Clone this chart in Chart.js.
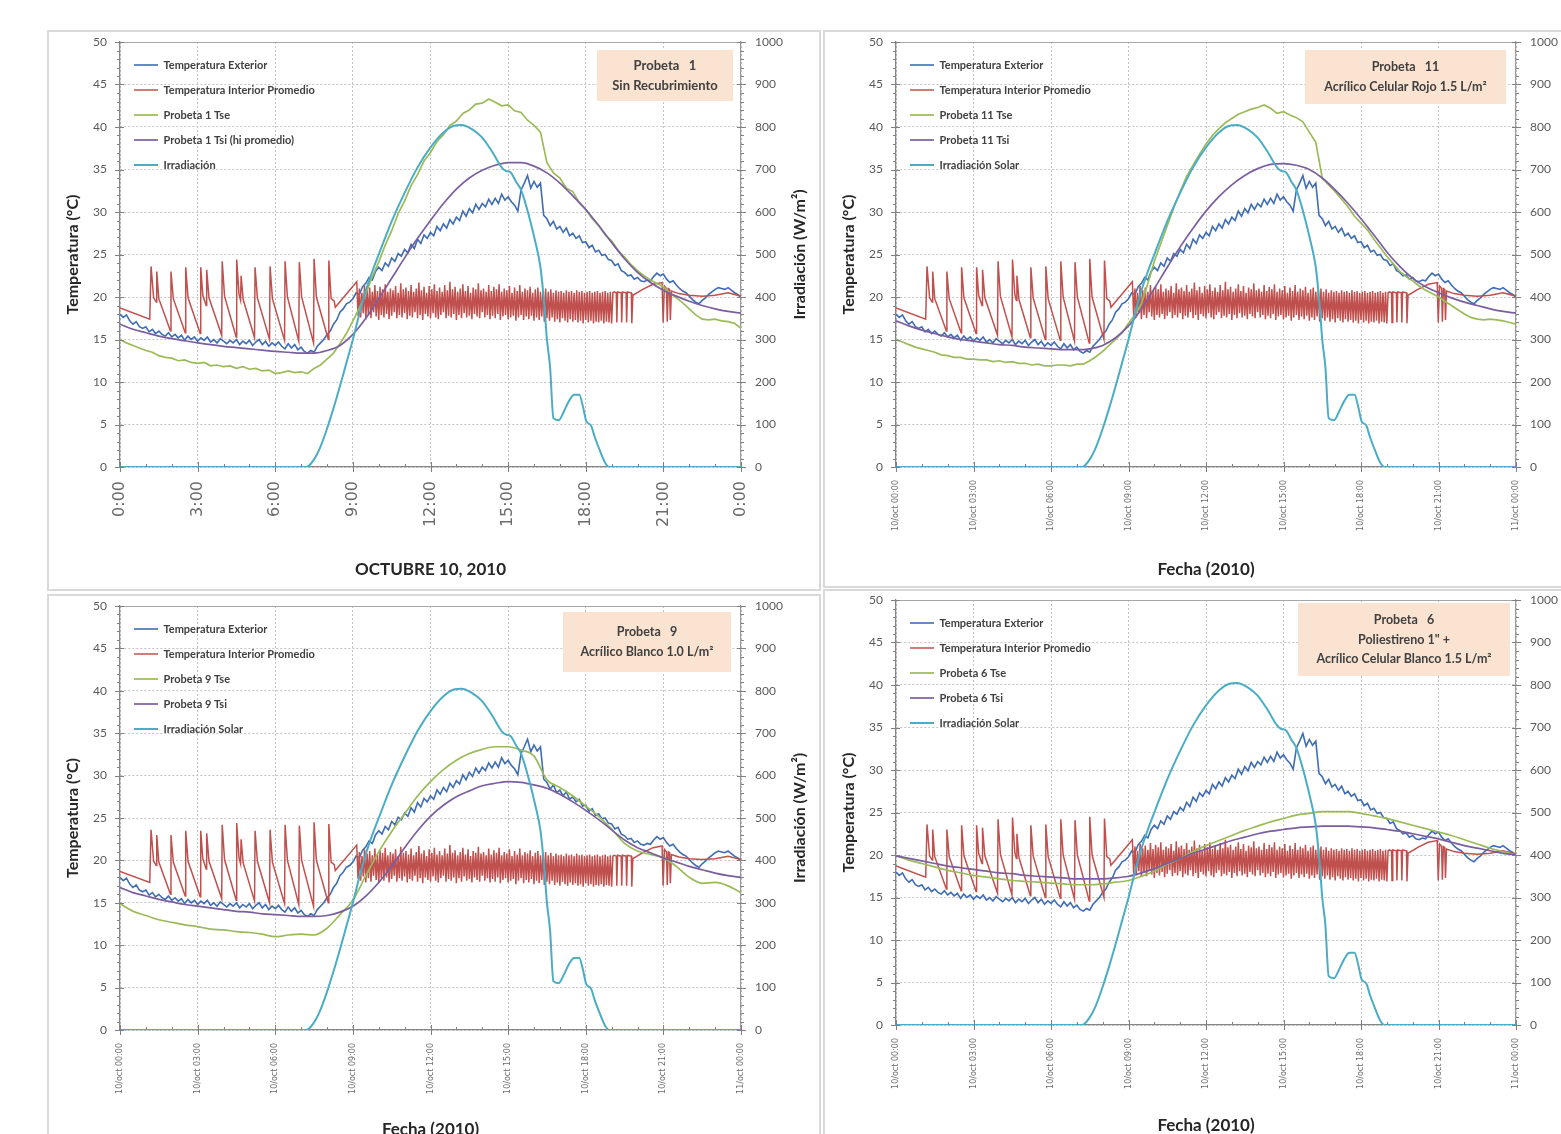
<!DOCTYPE html>
<html lang="es">
<head>
<meta charset="utf-8">
<title>Probetas - 10 de octubre de 2010</title>
<script src="https://cdn.jsdelivr.net/npm/chart.js@4.4.1/dist/chart.umd.min.js"></script>
<style>
  html, body { margin: 0; padding: 0; background: #fff; overflow: hidden; }
  body { width: 1561px; height: 1134px; position: relative; }
  .frame { position: absolute; border: 2px solid #d9d9d9; box-sizing: border-box; }
  canvas { position: absolute; }
</style>
</head>
<body>
<div class="frame" style="left:47px;top:30px;width:774px;height:561px"></div>
<div class="frame" style="left:823px;top:30px;width:760px;height:558px"></div>
<div class="frame" style="left:47px;top:594px;width:774px;height:600px"></div>
<div class="frame" style="left:823px;top:589px;width:760px;height:600px"></div>
<canvas id="p1" width="774" height="560" style="left:47px;top:30px"></canvas>
<canvas id="p11" width="738" height="557" style="left:823px;top:30px"></canvas>
<canvas id="p9" width="774" height="556" style="left:47px;top:594px"></canvas>
<canvas id="p6" width="738" height="560" style="left:823px;top:590px"></canvas>
<script>
Chart.defaults.font.family = "Lato, 'Open Sans', sans-serif";
Chart.defaults.color = '#595959';

// ---------- shared sensors (same in the four tests) ----------
// outside temperature, one reading every 7.5 min (0.125 h)
const EXT_STEP = 0.125;
const extTemp = [
  18.0, 17.6, 17.9, 17.2, 16.8, 17.1, 16.5, 16.3,
  16.5, 15.9, 16.2, 15.7, 16.0, 15.6, 15.4, 15.8,
  15.3, 15.6, 15.2, 15.5, 14.9, 15.4, 15.0, 15.3,
  14.8, 15.2, 14.9, 15.3, 14.7, 15.0, 14.6, 15.1,
  14.8, 14.5, 14.9, 14.6, 15.0, 14.4, 14.8, 14.5,
  14.9, 14.3, 14.7, 15.0, 14.4, 14.8, 14.2, 14.6,
  14.3, 14.7, 14.2, 13.9, 14.5, 14.0, 14.4, 13.8,
  14.1, 13.6, 13.4, 13.7, 13.5, 14.2, 14.6, 15.0,
  15.6, 16.0, 16.8, 17.3, 18.2, 18.6, 19.2, 19.4,
  19.8, 20.5, 20.3, 21.2, 21.6, 22.3, 22.0, 23.0,
  23.5, 23.1, 24.0, 23.6, 24.6, 24.2, 25.1, 24.8,
  25.6, 25.2, 26.2, 25.7, 26.8, 26.3, 27.3, 26.9,
  27.6, 27.2, 28.3, 27.8, 28.6, 28.1, 29.1, 28.6,
  29.4, 29.0, 30.1, 29.5, 30.4, 29.9, 30.9, 30.3,
  31.0, 30.6, 31.5, 30.9, 31.6, 31.0, 32.1, 31.4,
  31.8, 31.2, 30.8, 30.1, 32.6, 33.4, 34.3, 32.8,
  33.6, 32.9, 33.4, 29.6, 29.2, 28.4, 28.9, 28.0,
  28.3, 27.6, 28.1, 27.2, 27.5, 26.9, 27.2, 26.4,
  26.5, 25.8, 26.1, 25.3, 25.5, 24.9, 25.0, 24.4,
  24.3, 23.7, 23.9, 23.1, 22.9, 22.5, 22.6, 22.1,
  22.3, 21.9, 21.8, 22.0, 21.9, 22.4, 22.8, 22.5,
  22.7, 22.1, 21.7, 21.9, 21.4, 21.0, 20.7, 20.5,
  20.1, 19.7, 19.4, 19.2, 19.6, 19.9, 20.3, 20.6,
  20.9, 21.1, 21.0, 20.9, 21.1, 20.8, 20.5, 20.3,
  20.0
];

// inside average temperature: night cycles, dense day cycling, evening
const intNightHrs = [0, 1.15, 1.2, 1.3, 1.4, 1.42, 1.5, 1.95, 1.97, 2.06, 2.52, 2.54, 2.63, 3.1, 3.12,
  3.2, 3.33, 3.35, 3.44, 3.93, 3.95, 4.04, 4.49, 4.51, 4.6, 4.66, 4.68, 4.76, 5.2, 5.22,
  5.31, 5.78, 5.8, 5.89, 6.36, 6.38, 6.47, 6.91, 6.93, 7.02, 7.48, 7.5, 7.59, 8.05, 8.07,
  8.16, 8.28, 8.32, 9.15];
const intNightTemp = [18.7, 17.4, 23.6, 19.9, 19.4, 23.0, 19.8, 16.0, 23.0, 19.8, 15.8, 23.5, 19.9, 15.7, 23.5,
  20.2, 19.0, 23.2, 19.9, 15.5, 24.2, 20.1, 15.3, 24.4, 20.3, 19.6, 22.5, 19.7, 15.2, 23.5,
  19.9, 15.0, 23.6, 19.8, 14.9, 24.2, 20.0, 14.8, 24.1, 20.0, 14.6, 24.5, 20.0, 15.0, 24.3,
  19.8, 19.5, 18.8, 21.8];
// one reading every 3 min from 9:12 to 19:03
const DENSE_START = 9.2, DENSE_STEP = 0.05;
const intDayTemp = [
  17.8, 21.0, 17.6, 20.5, 18.1, 21.3, 17.4, 20.8, 17.9, 21.1,
  17.5, 20.6, 18.2, 21.4, 17.7, 20.7, 17.3, 21.2, 17.9, 20.9,
  17.6, 21.5, 18.0, 20.6, 17.4, 21.0, 17.8, 20.8, 18.2, 21.3,
  17.5, 20.5, 17.9, 21.6, 17.6, 20.9, 18.1, 21.1, 17.4, 20.7,
  17.8, 21.4, 17.6, 20.6, 18.2, 21.0, 17.5, 21.7, 17.9, 20.8,
  17.3, 21.2, 18.0, 20.5, 17.7, 21.3, 17.5, 20.9, 18.1, 21.5,
  17.6, 20.7, 17.4, 21.1, 17.9, 20.6, 18.2, 21.4, 17.5, 20.8,
  17.8, 21.8, 17.6, 20.9, 18.0, 21.2, 17.3, 20.6, 17.9, 21.0,
  17.5, 21.5, 18.1, 20.7, 17.6, 21.3, 17.8, 20.5, 17.4, 21.1,
  18.0, 20.9, 17.7, 21.6, 17.5, 20.8, 18.2, 21.0, 17.6, 20.6,
  17.9, 21.4, 17.4, 20.7, 17.8, 21.2, 17.5, 20.9, 18.0, 21.5,
  17.3, 20.6, 17.7, 21.0, 17.9, 20.8, 17.4, 21.3, 17.6, 20.5,
  17.8, 21.1, 17.2, 20.7, 17.6, 21.4, 17.9, 20.6, 17.3, 21.0,
  17.7, 20.8, 17.4, 21.2, 17.8, 20.5, 17.2, 20.9, 17.6, 21.1,
  17.3, 20.6, 17.7, 20.8, 17.1, 21.0, 17.5, 20.6, 17.2, 20.9,
  17.6, 20.5, 17.1, 20.8, 17.4, 20.6, 17.0, 20.7, 17.5, 20.5,
  17.2, 20.8, 17.0, 20.6, 17.4, 20.7, 17.1, 20.5, 17.3, 20.8,
  17.0, 20.6, 17.2, 20.7, 16.9, 20.5, 17.3, 20.6, 17.0, 20.7,
  17.2, 20.5, 16.9, 20.6, 17.1, 20.7, 17.0, 20.5, 17.2, 20.6,
  16.9, 20.7, 17.1, 20.5, 17.0, 20.6, 16.9, 20.5
];
const intEveHrs = [19.1, 19.18, 19.2, 19.23, 19.37, 19.39, 19.42, 19.56, 19.58, 19.61, 19.76, 19.78, 19.82,
  20.2, 20.6, 20.95, 20.99, 21.04, 21.12, 21.15, 21.19, 21.24, 21.27, 21.31, 21.6, 22.0, 22.5, 23.0, 23.5, 24.0];
const intEveTemp = [20.6, 20.5, 17.0, 20.6, 20.5, 17.0, 20.6, 20.5, 17.0, 20.6, 20.5, 16.9, 20.2,
  20.9, 21.5, 21.7, 17.0, 21.3, 21.0, 17.1, 21.0, 20.9, 17.3, 20.7, 20.4, 20.2, 20.1, 20.2, 20.5, 20.1];

// solar irradiance (W/m2)
const irrHrs = [0, 7.2, 7.5, 7.75, 8.0, 8.25, 8.5, 8.75, 9.0, 9.25, 9.5, 9.75, 10.0, 10.5, 11.0, 11.5,
  12.0, 12.5, 12.9, 13.2, 13.6, 14.0, 14.4, 14.75, 14.9, 15.1, 15.3, 15.5, 15.8, 16.05, 16.25, 16.4,
  16.5, 16.62, 16.75, 16.95, 17.15, 17.35, 17.55, 17.75, 17.9, 18.02, 18.2, 18.35, 18.55, 18.75, 18.9, 24];
const irrVals = [0, 0, 18, 48, 90, 138, 190, 245, 300, 360, 415, 460, 500, 578, 645, 705,
  752, 787, 803, 805, 795, 775, 740, 705, 697, 693, 672, 652, 592, 530, 470, 380,
  300, 236, 115, 110, 130, 155, 170, 170, 140, 108, 98, 70, 38, 10, 0, 0];

// ---------- specimen surface temperatures ----------
const QUARTER = 0.25, HALF = 0.5;
// Probeta 1 (every 15 min)
const tse1 = [
  15.0, 14.6, 14.3, 14.0, 13.7, 13.5, 13.1, 12.9, 12.8, 12.5, 12.6, 12.3,
  12.2, 12.3, 11.9, 12.0, 11.8, 11.9, 11.6, 11.8, 11.5, 11.6, 11.3, 11.4,
  11.0, 11.1, 11.3, 11.1, 11.2, 11.0, 11.6, 12.0, 12.7, 13.4, 14.5, 15.7,
  17.2, 18.7, 20.4, 22.4, 24.1, 26.1, 27.8, 29.8, 31.3, 33.1, 34.4, 36.0,
  37.0, 38.3, 39.1, 40.2, 40.7, 41.6, 42.0, 42.7, 42.8, 43.3, 42.9, 42.5,
  42.6, 41.9, 41.7, 40.8, 40.2, 39.4, 35.8, 34.6, 34.0, 32.8, 32.4, 31.1,
  30.3, 29.2, 28.4, 27.3, 26.6, 25.5, 24.7, 23.8, 23.1, 22.5, 22.0, 21.6,
  21.2, 20.5, 19.9, 19.3, 18.6, 17.9, 17.4, 17.3, 17.4, 17.2, 17.1, 16.9,
  16.3
];
// half-hourly
const tsi1 = [16.8, 16.2, 15.8, 15.4, 15.1, 14.85, 14.6, 14.4, 14.2, 14.05, 13.9, 13.75, 13.6, 13.5, 13.4, 13.4,
  13.7, 14.3, 15.6, 17.5, 19.8, 22.2, 24.6, 26.9, 29.0, 31.0, 32.7, 34.0, 34.9, 35.5, 35.8, 35.8,
  35.4, 34.6, 33.4, 31.9, 30.3, 28.4, 26.4, 24.5, 22.9, 21.7, 20.8, 20.1, 19.5, 19.0, 18.6, 18.3, 18.1];

// Probeta 11
const tse11 = [
  15.0, 14.7, 14.4, 14.1, 13.9, 13.7, 13.5, 13.2, 13.1, 12.9, 12.9, 12.7,
  12.7, 12.6, 12.6, 12.4, 12.5, 12.3, 12.4, 12.2, 12.2, 12.0, 12.1, 11.9,
  11.9, 12.0, 12.0, 11.9, 12.1, 12.1, 12.5, 13.0, 13.6, 14.3, 15.0, 15.8,
  16.9, 17.9, 19.2, 21.6, 24.2, 26.3, 28.4, 30.5, 32.4, 34.2, 35.5, 36.8,
  38.0, 39.0, 39.8, 40.5, 41.0, 41.5, 41.8, 42.1, 42.3, 42.6, 42.2, 41.6,
  41.8, 41.4, 41.1, 40.6, 39.4, 38.2, 34.0, 33.2, 32.4, 31.5, 30.6, 29.5,
  28.7, 27.9, 26.8, 25.8, 24.8, 23.9, 23.0, 22.4, 21.9, 21.3, 20.8, 20.4,
  20.0, 19.5, 19.0, 18.5, 18.0, 17.6, 17.4, 17.3, 17.4, 17.3, 17.2, 17.0,
  16.8
];
const tsi11 = [17.2, 16.6, 16.1, 15.7, 15.3, 15.0, 14.8, 14.6, 14.4, 14.3, 14.1, 14.0, 13.9, 13.8, 13.8, 13.9,
  14.3, 15.2, 16.6, 18.6, 21.0, 23.5, 25.9, 28.1, 30.1, 31.8, 33.2, 34.3, 35.1, 35.6, 35.7, 35.5,
  35.0, 34.0, 32.6, 31.0, 29.2, 27.3, 25.3, 23.6, 22.2, 21.2, 20.5, 19.9, 19.4, 19.0, 18.6, 18.3, 18.1];

// Probeta 9
const tse9 = [14.9, 14.0, 13.5, 13.0, 12.7, 12.4, 12.2, 11.9, 11.8, 11.6, 11.5, 11.3, 11.0, 11.2, 11.3, 11.2,
  12.0, 13.6, 15.3, 18.2, 21.0, 23.4, 25.5, 27.6, 29.3, 30.7, 31.8, 32.6, 33.1, 33.4, 33.4, 33.0,
  32.3, 29.5, 28.6, 27.6, 26.4, 25.2, 23.7, 22.0, 21.1, 20.7, 20.3, 19.3, 18.0, 17.3, 17.4, 17.0, 16.2];
const tsi9 = [16.8, 16.2, 15.8, 15.4, 15.1, 14.8, 14.6, 14.4, 14.2, 14.0, 13.9, 13.7, 13.6, 13.5, 13.4, 13.4,
  13.5, 13.9, 14.6, 15.8, 17.4, 19.3, 21.5, 23.5, 25.2, 26.5, 27.5, 28.2, 28.8, 29.1, 29.3, 29.2,
  28.9, 28.5, 27.8, 26.9, 25.9, 24.8, 23.6, 22.4, 21.5, 20.9, 20.3, 19.8, 19.3, 18.9, 18.5, 18.2, 18.0];

// Probeta 6
const tse6 = [19.9, 19.4, 19.0, 18.6, 18.2, 17.9, 17.6, 17.4, 17.2, 17.0, 16.9, 16.8, 16.7, 16.6, 16.5, 16.5,
  16.6, 16.8, 17.0, 17.5, 18.1, 18.9, 19.6, 20.4, 21.1, 21.7, 22.3, 22.9, 23.4, 23.9, 24.3, 24.7,
  24.9, 25.1, 25.1, 25.1, 24.9, 24.6, 24.3, 23.9, 23.5, 23.1, 22.7, 22.3, 21.8, 21.3, 20.8, 20.4, 20.0];
const tsi6 = [19.9, 19.6, 19.3, 19.0, 18.7, 18.5, 18.3, 18.1, 17.9, 17.8, 17.6, 17.5, 17.4, 17.3, 17.2, 17.2,
  17.2, 17.3, 17.5, 17.9, 18.4, 19.0, 19.6, 20.2, 20.7, 21.2, 21.7, 22.1, 22.5, 22.8, 23.0, 23.2,
  23.3, 23.4, 23.4, 23.4, 23.3, 23.2, 23.0, 22.8, 22.5, 22.2, 21.9, 21.5, 21.1, 20.8, 20.5, 20.2, 20.0];

// tick labels (every 3 h)
const labelsHora = ['0:00', '3:00', '6:00', '9:00', '12:00', '15:00', '18:00', '21:00', '0:00'];
const labelsFecha = ['10/oct 00:00', '10/oct 03:00', '10/oct 06:00', '10/oct 09:00', '10/oct 12:00',
  '10/oct 15:00', '10/oct 18:00', '10/oct 21:00', '11/oct 00:00'];

// ---------- helpers ----------
function byStep(vals, step) {
  return vals.map((v, i) => ({x: i * step, y: v}));
}
function byHour(hrs, vals) {
  return hrs.map((h, i) => ({x: h, y: vals[i]}));
}
// fixed axis size, and no extra padding from the tick labels
function fixSize(prop, size) {
  return s => {
    s[prop] = size;
    s.paddingTop = 0; s.paddingBottom = 0; s.paddingLeft = 0; s.paddingRight = 0;
  };
}

const extPoints = byStep(extTemp, EXT_STEP);
const intPoints = byHour(intNightHrs, intNightTemp)
  .concat(intDayTemp.map((v, i) => ({x: DENSE_START + i * DENSE_STEP, y: v})))
  .concat(byHour(intEveHrs, intEveTemp));
const irrPoints = byHour(irrHrs, irrVals);

// minor ticks, top frame line, label box and right axis title
const deco = {
  id: 'deco',
  beforeDatasetsDraw(chart, args, o) {
    const ctx = chart.ctx;
    if (!o.box) return;
    const b = o.box;
    ctx.save();
    ctx.fillStyle = '#fbe3d1';
    ctx.fillRect(b.x, b.y, b.w, b.h);
    ctx.fillStyle = '#404040';
    ctx.font = 'bold ' + b.size + 'px Lato';
    ctx.textAlign = 'center';
    ctx.textBaseline = 'middle';
    const mid = b.y + b.h / 2;
    b.lines.forEach((t, i) => {
      ctx.fillText(t, b.x + b.w / 2, mid + (i - (b.lines.length - 1) / 2) * b.gap);
    });
    ctx.restore();
  },
  afterDraw(chart, args, o) {
    const {ctx, chartArea: a, scales} = chart;
    ctx.save();
    ctx.strokeStyle = '#a6a6a6';
    ctx.lineWidth = 1;
    ctx.beginPath();
    ctx.moveTo(a.left, a.top + 0.5);
    ctx.lineTo(a.right, a.top + 0.5);
    ctx.stroke();

    ctx.strokeStyle = '#808080';
    ctx.beginPath();
    for (let v = 0; v <= 50; v++) {
      const major = v % 5 === 0;
      const yl = Math.round(scales.y.getPixelForValue(v)) + 0.5;
      ctx.moveTo(a.left - (major ? 5 : 3), yl);
      ctx.lineTo(a.left + (major ? 4 : 0), yl);
      const yr = Math.round(scales.y1.getPixelForValue(v * 20)) + 0.5;
      ctx.moveTo(a.right - (major ? 4 : 0), yr);
      ctx.lineTo(a.right + (major ? 5 : 3), yr);
    }
    for (let h = 0; h <= 24; h++) {
      const major = h % 3 === 0;
      const px = Math.round(scales.x.getPixelForValue(h)) + 0.5;
      ctx.moveTo(px, a.bottom - (major ? 5 : 3));
      ctx.lineTo(px, a.bottom + (major ? 5 : 0));
    }
    ctx.stroke();

    if (o.rightTitle) {
      ctx.fillStyle = '#262626';
      ctx.font = 'bold 16px Lato';
      ctx.textAlign = 'center';
      ctx.textBaseline = 'middle';
      ctx.translate(o.rightTitle, (a.top + a.bottom) / 2);
      ctx.rotate(-Math.PI / 2);
      ctx.fillText('Irradiación (W/m²)', 0, 0);
    }
    ctx.restore();
  }
};

const panels = [
  {
    canvas: 'p1', padTop: 12, rightW: 80, xH: 123, xTitlePad: 10, legendTop: 3.5,
    tse: byStep(tse1, QUARTER), tseSmooth: false, tsi: byStep(tsi1, HALF),
    tseLabel: 'Probeta 1 Tse', tsiLabel: 'Probeta 1 Tsi (hi promedio)', irrLabel: 'Irradiación',
    xLabels: labelsHora, xFont: {family: 'DejaVu Sans', size: 16}, xPad: 14, xTitle: 'OCTUBRE 10, 2010',
    box: {x: 550, y: 20, w: 136, h: 51, size: 13, gap: 20, lines: ['Probeta   1', 'Sin Recubrimiento']},
    rightTitle: 753
  },
  {
    canvas: 'p11', padTop: 12, rightW: 45, xH: 120, xTitlePad: 7, legendTop: 3.5,
    tse: byStep(tse11, QUARTER), tseSmooth: false, tsi: byStep(tsi11, HALF),
    tseLabel: 'Probeta 11 Tse', tsiLabel: 'Probeta 11 Tsi', irrLabel: 'Irradiación Solar',
    xLabels: labelsFecha, xFont: {family: 'DejaVu Sans', size: 8}, xPad: 13, xTitle: 'Fecha (2010)',
    box: {x: 482, y: 20, w: 201, h: 54, size: 12.5, gap: 20, lines: ['Probeta   11', 'Acrílico Celular Rojo 1.5 L/m²']},
    rightTitle: null
  },
  {
    canvas: 'p9', padTop: 12, rightW: 80, xH: 120, xTitlePad: 10, legendTop: 3.5,
    tse: byStep(tse9, HALF), tseSmooth: true, tsi: byStep(tsi9, HALF),
    tseLabel: 'Probeta 9 Tse', tsiLabel: 'Probeta 9 Tsi', irrLabel: 'Irradiación Solar',
    xLabels: labelsFecha, xFont: {family: 'DejaVu Sans', size: 8}, xPad: 13, xTitle: 'Fecha (2010)',
    box: {x: 516, y: 18, w: 168, h: 60, size: 12.5, gap: 20, lines: ['Probeta   9', 'Acrílico Blanco 1.0 L/m²']},
    rightTitle: 753
  },
  {
    canvas: 'p6', padTop: 10, rightW: 45, xH: 125, xTitlePad: 14, legendTop: 1.5,
    tse: byStep(tse6, HALF), tseSmooth: true, tsi: byStep(tsi6, HALF),
    tseLabel: 'Probeta 6 Tse', tsiLabel: 'Probeta 6 Tsi', irrLabel: 'Irradiación Solar',
    xLabels: labelsFecha, xFont: {family: 'DejaVu Sans', size: 8}, xPad: 13, xTitle: 'Fecha (2010)',
    box: {x: 475, y: 13, w: 212, h: 73, size: 12.5, gap: 19.5, lines: ['Probeta   6', 'Poliestireno 1" +', 'Acrílico Celular Blanco 1.5 L/m²']},
    rightTitle: null
  }
];

function makeChart(p) {
  const line = {pointRadius: 0, pointHoverRadius: 0, fill: false};
  new Chart(document.getElementById(p.canvas), {
    type: 'line',
    data: {
      datasets: [
        Object.assign({label: 'Temperatura Exterior', data: extPoints, borderColor: '#3f6db3',
          borderWidth: 1.6, tension: 0, order: 4}, line),
        Object.assign({label: 'Temperatura Interior Promedio', data: intPoints, borderColor: '#c0504d',
          borderWidth: 1.5, tension: 0, order: 3}, line),
        Object.assign({label: p.tseLabel, data: p.tse, borderColor: '#9bbb59', borderWidth: 1.7,
          tension: 0, cubicInterpolationMode: p.tseSmooth ? 'monotone' : 'default', order: 2}, line),
        Object.assign({label: p.tsiLabel, data: p.tsi, borderColor: '#7b5ea0', borderWidth: 1.7,
          cubicInterpolationMode: 'monotone', order: 1}, line),
        Object.assign({label: p.irrLabel, data: irrPoints, yAxisID: 'y1', borderColor: '#4bacc6',
          borderWidth: 2, cubicInterpolationMode: 'monotone', order: 0}, line)
      ]
    },
    options: {
      responsive: false,
      animation: false,
      devicePixelRatio: 1,
      events: [],
      layout: {padding: {top: p.padTop, left: 0, right: 0, bottom: 0}},
      scales: {
        x: {
          type: 'linear', min: 0, max: 24,
          afterFit: fixSize('height', p.xH),
          ticks: {
            stepSize: 3, autoSkip: false, minRotation: 90, maxRotation: 90,
            padding: p.xPad, color: '#6b6b6b', font: p.xFont,
            callback: v => p.xLabels[Math.round(v / 3)]
          },
          grid: {color: '#c4c4c4', drawTicks: false},
          border: {color: '#868686', width: 1.3, dash: [2, 2]},
          title: {display: true, text: p.xTitle, color: '#262626',
            font: {size: 17, weight: 'bold'}, padding: {top: 0, bottom: p.xTitlePad}}
        },
        y: {
          position: 'left', min: 0, max: 50,
          afterFit: fixSize('width', 73),
          ticks: {stepSize: 5, padding: 13, color: '#595959', font: {size: 12}},
          grid: {color: '#c4c4c4', drawTicks: false},
          border: {color: '#868686', width: 1.3, dash: [2, 2]},
          title: {display: true, text: 'Temperatura (°C)', color: '#262626',
            font: {size: 16, weight: 'bold'}, padding: {top: 16, bottom: 0}}
        },
        y1: {
          position: 'right', min: 0, max: 1000,
          afterFit: fixSize('width', p.rightW),
          ticks: {stepSize: 100, padding: 14, color: '#595959', font: {size: 12},
            callback: v => String(v)},
          grid: {drawOnChartArea: false, drawTicks: false},
          border: {color: '#9a9a9a', width: 1.2}
        }
      },
      plugins: {
        tooltip: {enabled: false},
        legend: {
          position: 'chartArea',
          align: 'start',
          fullSize: false,
          title: {display: true, text: '', font: {size: 10}, padding: {top: p.legendTop, bottom: 0}},
          labels: {
            usePointStyle: true, pointStyle: 'line', pointStyleWidth: 24,
            padding: 14, color: '#404040', font: {size: 11, weight: 'bold'},
            sort: (a, b) => a.datasetIndex - b.datasetIndex
          }
        },
        deco: {box: p.box, rightTitle: p.rightTitle}
      }
    },
    plugins: [deco]
  });
}

panels.forEach(makeChart);
</script>
</body>
</html>
